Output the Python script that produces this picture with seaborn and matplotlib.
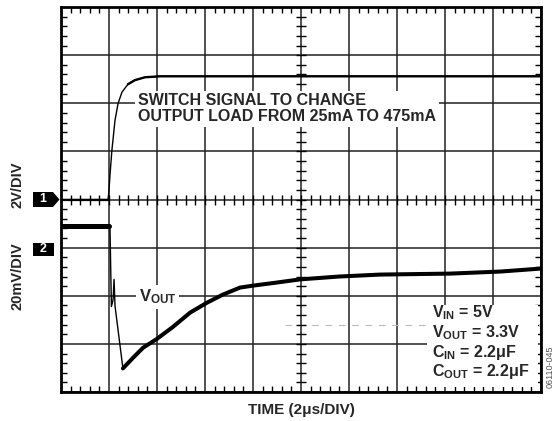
import numpy as np
import pandas as pd
import matplotlib
matplotlib.use("Agg")
import matplotlib.pyplot as plt
import seaborn as sns
from matplotlib.patches import Rectangle, Polygon

# ---- data (time in us from left edge) ----
time_ch1_us = [0, 1.96, 2.0, 2.04, 2.12, 2.25, 2.38, 2.54, 2.79, 3.08, 3.5, 4.12, 20]
ch1_volts = [0, 0, 0.38, 1.0, 2.04, 3.29, 4.0, 4.46, 4.79, 4.96, 5.08, 5.12, 5.12]

time_ch2_us = [0, 2.0, 2.04, 2.10, 2.17, 2.21, 2.25, 2.58, 3.0, 3.42, 4.0, 4.67,
               5.38, 6.08, 6.75, 7.46, 8.0, 9.0, 9.96, 11.6, 13.3, 16.2, 18.3, 20]
ch2_dev_mv = [0, 0, 0, -33.3, -30.4, -22, -33, -59, -54.6, -50.4, -46.7, -41.7,
              -35.8, -31.7, -28.3, -25.4, -24.6, -23.3, -22, -20.8, -20, -19.6, -18.75, -17.5]

US_PER_DIV = 2.0
CH1_V_PER_DIV = 2.0
CH2_MV_PER_DIV = 20.0
CH1_REF_DIV = 4.0
CH2_REF_DIV = 3.44

sns.set_theme(style="white")
plt.rcParams["font.family"] = ["Liberation Sans", "DejaVu Sans"]
plt.rcParams["font.weight"] = "bold"
plt.rcParams["mathtext.fontset"] = "custom"
plt.rcParams["mathtext.rm"] = "Liberation Sans:bold"
plt.rcParams["mathtext.it"] = "Liberation Sans:bold"
plt.rcParams["mathtext.bf"] = "Liberation Sans:bold"

ch1 = pd.DataFrame({"x": np.array(time_ch1_us) / US_PER_DIV,
                    "y": CH1_REF_DIV + np.array(ch1_volts) / CH1_V_PER_DIV})
ch2 = pd.DataFrame({"x": np.array(time_ch2_us) / US_PER_DIV,
                    "y": CH2_REF_DIV + np.array(ch2_dev_mv) / CH2_MV_PER_DIV})

W, H = 556, 421
fig = plt.figure(figsize=(5.56, 4.21), dpi=100)
ax = fig.add_axes([61 / W, 1 - 392 / H, 480 / W, 385 / H])
ax.set_xlim(0, 10)
ax.set_ylim(0, 8)

# grid and ticks
ax.set_xticks(np.arange(0, 11, 1))
ax.set_yticks(np.arange(0, 9, 1))
ax.set_xticks(np.arange(0, 10.01, 0.2), minor=True)
ax.set_yticks(np.arange(0, 8.01, 0.2), minor=True)
ax.grid(True, which="major", color="#222222", lw=1.1)
ax.tick_params(which="major", length=0, labelbottom=False, labelleft=False)
ax.tick_params(which="minor", direction="in", length=4, width=1.0, color="black",
               top=True, bottom=True, left=True, right=True)
for s in ax.spines.values():
    s.set_linewidth(2.0)
    s.set_color("black")
    s.set_zorder(6)

minor_x = np.arange(0.2, 10, 0.2)
minor_y = np.arange(0.2, 8, 0.2)
ax.plot(minor_x, np.full_like(minor_x, 4.0), ls="none", marker="|", ms=7, mew=1.0, color="black", zorder=2)
ax.plot(np.full_like(minor_y, 5.0), minor_y, ls="none", marker="_", ms=7, mew=1.0, color="black", zorder=2)

# light dashed artifact line
ax.plot([4.67, 10], [1.396, 1.396], ls=(0, (6, 6)), lw=0.8, color="#bbbbbb", zorder=1.5)

# traces: thin for fast edges, thick (noise band) for slow parts
kw = dict(ax=ax, x="x", y="y", color="black", estimator=None, sort=False, zorder=4)
sns.lineplot(data=ch1, lw=1.0, **kw)
sns.lineplot(data=ch1.iloc[:2], lw=1.6, **kw)
sns.lineplot(data=ch1.iloc[8:], lw=1.7, **kw)

sns.lineplot(data=ch2, lw=1.0, **kw)
sns.lineplot(data=ch2.iloc[:2], lw=3.6, **kw)
sns.lineplot(data=ch2.iloc[7:], lw=2.9, **kw)
ax.set_xlabel("")
ax.set_ylabel("")

# annotations
ax.text(1.6, 5.885, "SWITCH SIGNAL TO CHANGE\nOUTPUT LOAD FROM 25mA TO 475mA",
        ha="left", va="center", fontsize=11.5, fontweight="bold", linespacing=1.05,
        bbox=dict(facecolor="white", edgecolor="none", pad=2), zorder=3)
ax.text(1.62, 1.98, r"V$_{\mathrm{OUT}}$", ha="left", va="center", fontsize=12,
        fontweight="bold", bbox=dict(facecolor="white", edgecolor="none", pad=2), zorder=3)

ax.add_patch(Rectangle((7.62, 0.1), 2.31, 1.71, facecolor="white", edgecolor="none", zorder=3))
lines = [r"V$_{\mathrm{IN}}$ = 5V", r"V$_{\mathrm{OUT}}$ = 3.3V",
         r"C$_{\mathrm{IN}}$ = 2.2μF", r"C$_{\mathrm{OUT}}$ = 2.2μF"]
ys = [1.646, 1.229, 0.8125, 0.417]
for t, yy in zip(lines, ys):
    ax.text(7.73, yy, t, ha="left", va="center", fontsize=11.5, fontweight="bold", zorder=5)

# channel markers
def fpt(px, py):
    return (px / W, 1 - py / H)

fig.add_artist(Polygon([fpt(33, 192), fpt(53, 192), fpt(59.5, 199.5), fpt(53, 207), fpt(33, 207)],
                       closed=True, facecolor="black", edgecolor="none", transform=fig.transFigure))
fig.add_artist(Rectangle(fpt(33, 256), 21 / W, 13 / H, facecolor="black", edgecolor="none",
                         transform=fig.transFigure))
fig.text(*fpt(43, 199.5), "1", color="white", fontsize=9, fontweight="bold", ha="center", va="center")
fig.text(*fpt(43.5, 249.5), "2", color="white", fontsize=9, fontweight="bold", ha="center", va="center")

fig.text(*fpt(18, 185), "2V/DIV", rotation=90, ha="center", va="center",
         fontsize=10.5, fontweight="bold")
fig.text(*fpt(18, 276), "20mV/DIV", rotation=90, ha="center", va="center",
         fontsize=10.5, fontweight="bold")
fig.text(*fpt(301, 410), "TIME (2μs/DIV)", ha="center", va="center",
         fontsize=11, fontweight="bold")
fig.text(*fpt(550, 367), "06110-045", rotation=90, ha="center", va="center",
         fontsize=6.5, fontweight="normal", color="#555555")

fig.savefig("out.png", dpi=100, facecolor="white")
